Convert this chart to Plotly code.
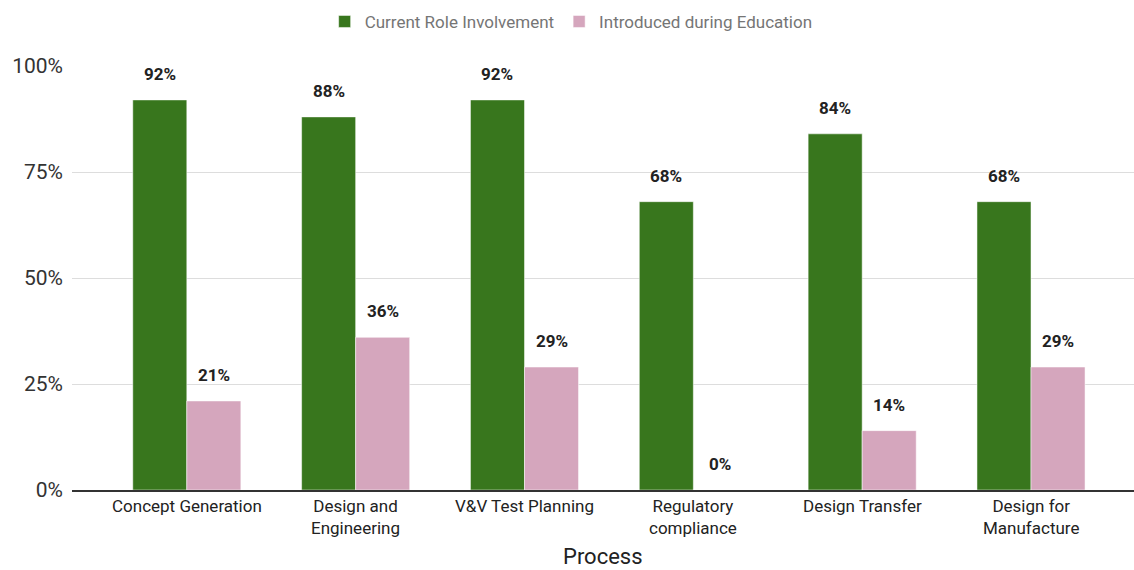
import plotly.graph_objects as go

# Survey results by process stage (percent of respondents)
processes = [
    "Concept Generation",
    "Design and<br>Engineering",
    "V&V Test Planning",
    "Regulatory<br>compliance",
    "Design Transfer",
    "Design for<br>Manufacture",
]
current_role = [92, 88, 92, 68, 84, 68]
education = [21, 36, 29, 0, 14, 29]
y_ticks = [0, 25, 50, 75, 100]

GREEN = "#38761d"
PINK = "#d5a6bd"
FONT = "Roboto"
TEXT = "#222222"

idx = list(range(len(processes)))
bar_gap = 0.36
half = (1 - bar_gap) / 4  # centre offset of each bar inside its group

fig = go.Figure()
fig.add_trace(go.Bar(
    name="Current Role Involvement", x=idx, y=current_role,
    marker=dict(color=GREEN, line=dict(color="white", width=0.5)),
))
fig.add_trace(go.Bar(
    name="Introduced during Education", x=idx, y=education,
    marker=dict(color=PINK, line=dict(color="white", width=0.5)),
))

annotations = []
# Value labels above every bar
for series, sign in ((current_role, -1), (education, 1)):
    for i, v in enumerate(series):
        annotations.append(dict(
            x=i + sign * half, y=v, xref="x", yref="y",
            text=f"<b>{v}%</b>", showarrow=False,
            yanchor="bottom", yshift=14,
            font=dict(family=FONT, size=17, color=TEXT),
        ))

# Category labels under the axis
for i, label in enumerate(processes):
    annotations.append(dict(
        x=i, y=0, xref="x", yref="paper",
        text=label, showarrow=False, borderpad=0,
        yanchor="top", yshift=-5,
        font=dict(family=FONT, size=17, color=TEXT),
    ))

# Axis title
annotations.append(dict(
    x=0.5, y=0, xref="paper", yref="paper", text="Process", showarrow=False,
    yanchor="bottom", yshift=-80, borderpad=0,
    font=dict(family=FONT, size=22, color=TEXT),
))

fig.update_layout(
    width=1134, height=570,
    margin=dict(l=72, r=0, t=66, b=80),
    paper_bgcolor="white", plot_bgcolor="white",
    barmode="group", bargap=bar_gap, bargroupgap=0,
    font=dict(family=FONT, color=TEXT),
    annotations=annotations,
    legend=dict(
        orientation="h", x=0.47, xanchor="center", y=1.104, yanchor="middle",
        font=dict(family=FONT, size=17, color="#757575"),
        itemclick=False, traceorder="normal",
    ),
    xaxis=dict(
        range=[-0.68, 5.61],
        showline=True, linecolor="#333333", linewidth=1.5,
        showgrid=False, ticks="", showticklabels=False,
        automargin=False,
    ),
    yaxis=dict(
        range=[0, 100], tickmode="array", tickvals=y_ticks,
        ticktext=[f"{t}%" for t in y_ticks],
        showgrid=True, gridcolor="#dddddd", gridwidth=1,
        zeroline=False, automargin=False, ticklabelstandoff=8,
        tickfont=dict(family=FONT, size=21, color="#333333"),
    ),
)

fig.write_html("out.html")
